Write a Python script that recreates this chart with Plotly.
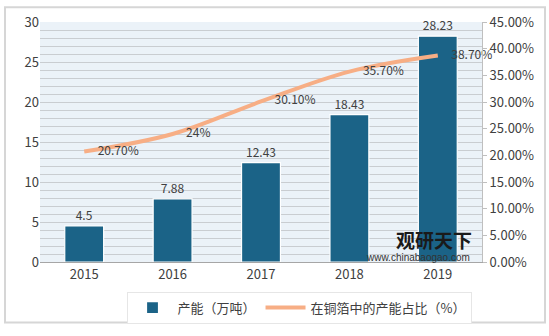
import plotly.graph_objects as go

years = ["2015", "2016", "2017", "2018", "2019"]
capacity = [4.5, 7.88, 12.43, 18.43, 28.23]
share = [20.70, 24.0, 30.10, 35.70, 38.70]
share_labels = ["20.70%", "24%", "30.10%", "35.70%", "38.70%"]

FONT = "Microsoft YaHei, Noto Sans CJK SC, sans-serif"
TXT = "#404040"

fig = go.Figure()
fig.add_trace(go.Bar(
    x=years, y=capacity, name="产能（万吨）",
    marker=dict(color="#1B6387", line=dict(color="#FFFFFF", width=1.2)),
    width=0.44,
    text=[f"{v:g}" for v in capacity], textposition="outside",
    textfont=dict(size=12, color=TXT, family=FONT), cliponaxis=False,
))
fig.add_trace(go.Scatter(
    x=years, y=share, name="在铜箔中的产能占比（%）", yaxis="y2",
    mode="lines+markers+text", line=dict(color="#F7AE85", width=4, shape="spline"),
    marker=dict(size=20, color="rgba(0,0,0,0)"),
    text=share_labels, textposition="middle right",
    textfont=dict(size=12, color=TXT, family=FONT), cliponaxis=False,
))

fig.update_layout(
    width=549, height=336,
    margin=dict(l=40, r=67, t=20, b=70),
    paper_bgcolor="#FFFFFF", plot_bgcolor="#EBF2F8",
    font=dict(family=FONT, size=12, color=TXT),
    bargap=0.5,
    showlegend=True,
    legend=dict(orientation="h", x=0.586, xanchor="center", y=-0.19, yanchor="middle",
                bgcolor="#FFFFFF", bordercolor="#E6E6E6", borderwidth=1,
                font=dict(size=13, color=TXT, family=FONT), itemwidth=40),
    xaxis=dict(type="category", showgrid=False, showline=True, linecolor="#A6A6A6",
               linewidth=1, ticks="", tickfont=dict(size=13, color=TXT)),
    yaxis=dict(range=[0, 30], dtick=5, showgrid=True, gridcolor="#C9CDD1", gridwidth=1,
               minor=dict(dtick=1, showgrid=True, gridcolor="#C9CDD1", gridwidth=1),
               zeroline=False, showline=False, ticks="",
               tickfont=dict(size=13, color=TXT)),
    yaxis2=dict(range=[0, 45], dtick=5, overlaying="y", side="right", showgrid=False,
                zeroline=False, showline=True, linecolor="#BFBFBF", ticks="outside",
                ticklen=4, tickcolor="#BFBFBF", ticksuffix=".00%",
                tickfont=dict(size=13, color=TXT)),
    shapes=[dict(type="rect", xref="paper", yref="paper", layer="below",
                 x0=-35/442, x1=505/442, y0=-62/246, y1=261/246,
                 line=dict(color="#D6D6D6", width=2), fillcolor="rgba(0,0,0,0)")],
    annotations=[
        dict(text="<b>观研天下</b>", xref="paper", yref="paper", x=(434-40)/442, y=(266-243)/246,
             xanchor="center", yanchor="middle", showarrow=False,
             font=dict(size=19, color="#1a1a1a", family="Noto Sans CJK SC")),
        dict(text="www.chinabaogao.com", xref="paper", yref="paper", x=(418-40)/442, y=(266-261)/246,
             xanchor="center", yanchor="middle", showarrow=False,
             font=dict(size=10, color="#333333", family="Arial, Liberation Sans")),
    ],
)
fig.write_html("out.html")
